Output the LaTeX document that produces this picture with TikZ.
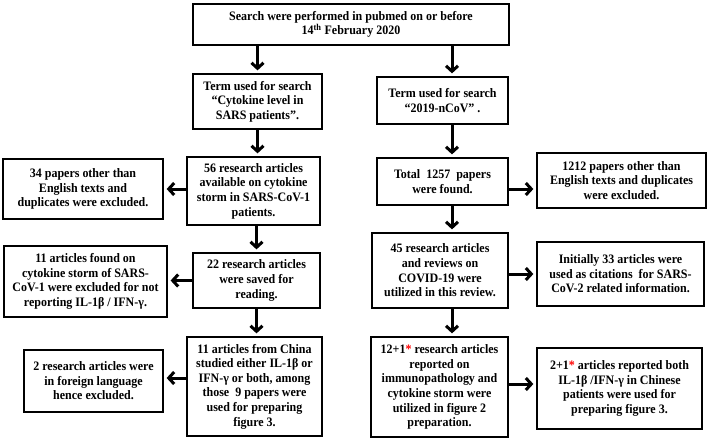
\documentclass[tikz,border=0pt]{standalone}
\usepackage{fontspec}
\setmainfont{Liberation Serif}[FakeStretch=0.93]
\usetikzlibrary{arrows.meta}
\tikzset{
  box/.style={draw, line width=2.3pt, inner sep=0pt, align=center,
    font=\bfseries\fontsize{12.9}{14.6}\selectfont},
  arr/.style={line width=3pt, shorten >=2.5pt,
    -{Straight Barb[length=5.5pt,width=12pt]}}
}
\begin{document}
\begin{tikzpicture}[x=1pt,y=-1pt]
\useasboundingbox (0,0) rectangle (708,440);
\node[box, minimum width=316pt, minimum height=41pt] (top) at (351,24.5)
  {Search were performed in pubmed on or before\\14\textsuperscript{th} February 2020};
\node[box, minimum width=129pt, minimum height=55pt] (termL) at (257.5,101.5)
  {Term used for search\\“Cytokine level in\\SARS patients”.};
\node[box, minimum width=131pt, minimum height=47pt] (termR) at (442.5,100.5)
  {Term used for search\\“2019-nCoV” .};
\node[box, minimum width=133pt, minimum height=68pt] (n56) at (253.5,191)
  {56 research articles\\available on cytokine\\storm in SARS-CoV-1\\patients.};
\node[box, minimum width=160pt, minimum height=60pt] (n34) at (83,189)
  {34 papers other than\\English texts and\\duplicates were excluded.};
\node[box, minimum width=131pt, minimum height=47pt] (total) at (442.5,181.5)
  {Total~~1257~~papers\\were found.};
\node[box, minimum width=169pt, minimum height=55pt] (n1212) at (621.5,180.5)
  {1212 papers other than\\English texts and duplicates\\were excluded.};
\node[box, minimum width=127pt, minimum height=55pt] (n22) at (256.5,280.5)
  {22 research articles\\were saved for\\reading.};
\node[box, minimum width=163pt, minimum height=71pt] (n11f) at (85.5,281.5)
  {11 articles found on\\cytokine storm of SARS-\\CoV-1 were excluded for not\\reporting IL-1β / IFN-γ.};
\node[box, minimum width=136pt, minimum height=75pt] (n45) at (440,270.5)
  {45 research articles\\and reviews on\\COVID-19 were\\utilized in this review.};
\node[box, minimum width=167pt, minimum height=64pt] (init) at (620.5,274)
  {Initially 33 articles were\\used as citations~~for SARS-\\CoV-2 related information.};
\node[box, minimum width=135pt, minimum height=99pt] (n11c) at (254.5,386.5)
  {11 articles from China\\studied either IL-1β or\\IFN-γ or both, among\\those~~9 papers were\\used for preparing\\figure 3.};
\node[box, minimum width=139pt, minimum height=62pt] (n2r) at (93.5,381)
  {2 research articles were\\in foreign language\\hence excluded.};
\node[box, minimum width=137pt, minimum height=100pt] (n12) at (439.5,387)
  {12+1\textcolor{red}{*} research articles\\reported on\\immunopathology and\\cytokine storm were\\utilized in figure 2\\preparation.};
\node[box, minimum width=165pt, minimum height=81pt] (n2p) at (619.5,388.5)
  {2+1\textcolor{red}{*} articles reported both\\IL-1β /IFN-γ in Chinese\\patients were used for\\preparing figure 3.};
% left column arrows
\draw[arr] (top.south -| termL.north) -- (termL.north);
\draw[arr] (termL.south) -- (termL.south |- n56.north);
\draw[arr] (n56.south -| n22.north) -- (n22.north);
\draw[arr] (n22.south) -- (n22.south |- n11c.north);
% right column arrows
\draw[arr] ([xshift=9.5pt]top.south -| termR.north) -- ([xshift=9.5pt]termR.north);
\draw[arr] ([xshift=9.5pt]termR.south) -- ([xshift=9.5pt]termR.south |- total.north);
\draw[arr] ([xshift=9.5pt]total.south) -- ([xshift=9.5pt]total.south |- n45.north);
\draw[arr] ([xshift=12pt]n45.south) -- ([xshift=12pt]n45.south |- n12.north);
% horizontal arrows
\draw[arr] (n56.west |- n34.east) -- (n34.east);
\draw[arr] ([yshift=-7.5pt]total.east) -- ([yshift=-7.5pt]total.east -| n1212.west);
\draw[arr] (n22.west) -- (n22.west -| n11f.east);
\draw[arr] (n45.east |- init.west) -- (init.west);
\draw[arr] ([yshift=3pt]n11c.west |- n2r.east) -- ([yshift=3pt]n2r.east);
\draw[arr] ([yshift=3pt]n12.east) -- ([yshift=3pt]n12.east -| n2p.west);
\end{tikzpicture}
\end{document}
